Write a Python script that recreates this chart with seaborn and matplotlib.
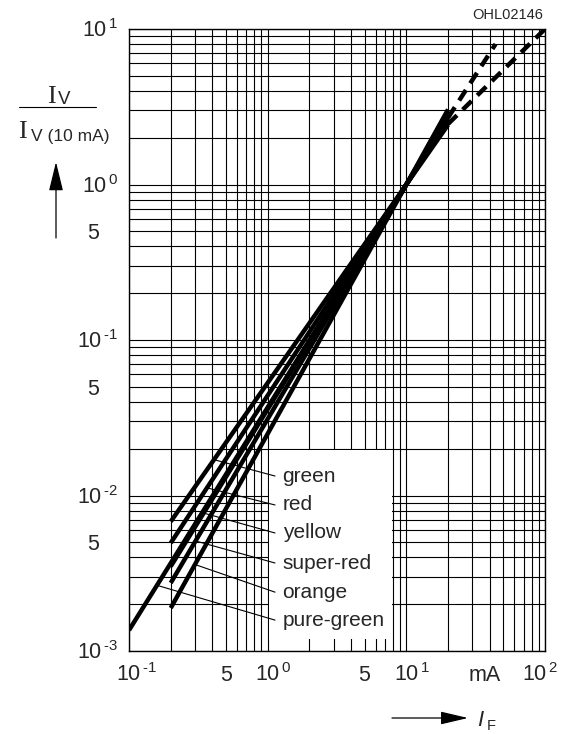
import matplotlib
matplotlib.use("Agg")
import numpy as np
import pandas as pd
import matplotlib.pyplot as plt
import matplotlib.transforms as mtransforms
from matplotlib.patches import Rectangle
from matplotlib.ticker import LogLocator, NullFormatter
import seaborn as sns

# relative luminous intensity vs forward current
LED_NAMES = ["green", "red", "yellow", "super-red", "orange", "pure-green"]
START_CURRENT = [0.2, 0.2, 0.2, 0.2, 0.2, 0.1]          # mA
START_RATIO = [0.0068, 0.00495, 0.0035, 0.00274, 0.00189, 0.00136]
REF_CURRENT = 10.0
REF_RATIO = 1.0
END_CURRENT = 20.0
END_RATIO = [2.42, 2.56, 2.73, 2.84, 3.04, 2.69]

# dashed extrapolation above 20 mA
DASH_STEEP_X = [20.0, 44.0]
DASH_STEEP_Y = [2.69, 8.0]
DASH_FLAT_X = [20.0, 100.0]
DASH_FLAT_Y = [2.45, 10.0]

# leader lines: point on curve -> label
LEADER_CURVE_X = [0.41, 0.365, 0.347, 0.302, 0.299, 0.158]
LEADER_CURVE_Y = [0.0170, 0.0112, 0.0077, 0.0051, 0.0036, 0.00265]
LEADER_END_X = 1.13
LABEL_X = 1.28
LABEL_Y = [0.01334, 0.00869, 0.00574, 0.00368, 0.00239, 0.00158]

X_DECADES = [-1, 0, 1, 2]
X_FIVES = [0.5, 5.0]
Y_DECADES = [1, 0, -1, -2, -3]
Y_FIVES = [0.5, 0.05, 0.005]

SANS = "Liberation Sans"
TICK_FS = 15.5
LABEL_FS = 15

sns.set_style("white")
plt.rcParams["font.family"] = [SANS, "DejaVu Sans"]
plt.rcParams["mathtext.fontset"] = "custom"
plt.rcParams["mathtext.rm"] = SANS
plt.rcParams["mathtext.it"] = SANS + ":italic"
plt.rcParams["mathtext.bf"] = SANS + ":bold"


def decade_label(e):
    # short hyphen instead of the wide math minus, like the datasheet
    exp = f"\\text{{-}}{-e}" if e < 0 else f"{e}"
    return f"10$^{{\\,{exp}}}$"


W, H = 563, 734
fig = plt.figure(figsize=(W / 100, H / 100), dpi=100)
ax = fig.add_axes([129 / W, 1 - 651 / H, 416 / W, 622 / H])
ax.set_xscale("log")
ax.set_yscale("log")
ax.set_xlim(0.1, 100)
ax.set_ylim(0.001, 10)

for axis in (ax.xaxis, ax.yaxis):
    axis.set_major_locator(LogLocator(10, numticks=20))
    axis.set_minor_locator(LogLocator(10, subs=np.arange(2, 10), numticks=40))
    axis.set_minor_formatter(NullFormatter())
ax.set_axisbelow(True)
ax.grid(which="both", color="black", lw=0.8)
ax.tick_params(which="both", length=0, labelbottom=False, labelleft=False)
for sp in ax.spines.values():
    sp.set_color("black")
    sp.set_linewidth(1.0)

# white label field in the lower middle of the grid
ax.add_patch(Rectangle((1.015, 0.00119), 7.9 - 1.015, 0.0196 - 0.00119,
                       facecolor="white", edgecolor="none", zorder=1))

solid = pd.DataFrame({
    "led": np.repeat(LED_NAMES, 3),
    "current": np.ravel([[s, REF_CURRENT, END_CURRENT] for s in START_CURRENT]),
    "ratio": np.ravel([[s, REF_RATIO, e] for s, e in zip(START_RATIO, END_RATIO)]),
})
sns.lineplot(data=solid, x="current", y="ratio", units="led", estimator=None,
             sort=False, color="black", lw=3.2, solid_capstyle="butt",
             ax=ax, zorder=3)

dashed = pd.DataFrame({
    "branch": ["steep"] * 2 + ["flat"] * 2,
    "current": DASH_STEEP_X + DASH_FLAT_X,
    "ratio": DASH_STEEP_Y + DASH_FLAT_Y,
})
sns.lineplot(data=dashed, x="current", y="ratio", units="branch", estimator=None,
             sort=False, color="black", lw=3.2, linestyle=(0, (2.8, 1.8)),
             dash_capstyle="butt", ax=ax, zorder=3)

for i, name in enumerate(LED_NAMES):
    ax.plot([LEADER_CURVE_X[i], LEADER_END_X], [LEADER_CURVE_Y[i], LABEL_Y[i]],
            color="black", lw=0.8, zorder=2)
    ax.text(LABEL_X, LABEL_Y[i], name, ha="left", va="center",
            fontsize=LABEL_FS, zorder=4)

ax.set_xlabel("")
ax.set_ylabel("")

# tick labels
ytr = ax.get_yaxis_transform()
for e in Y_DECADES:
    t = mtransforms.offset_copy(ytr, fig=fig, x=-0.11, y=-0.08, units="inches")
    ax.text(0, 10.0 ** e, decade_label(e), transform=t, ha="right",
            va="baseline", fontsize=TICK_FS)
for v in Y_FIVES:
    t = mtransforms.offset_copy(ytr, fig=fig, x=-0.30, y=-0.08, units="inches")
    ax.text(0, v, "5", transform=t, ha="right", va="baseline", fontsize=TICK_FS)

xtr = ax.get_xaxis_transform()
for e in X_DECADES:
    dx = -0.23 if e == 2 else -0.125
    t = mtransforms.offset_copy(xtr, fig=fig, x=dx, y=-0.30, units="inches")
    ax.text(10.0 ** e, 0, decade_label(e), transform=t, ha="left",
            va="baseline", fontsize=TICK_FS)
for v in X_FIVES:
    t = mtransforms.offset_copy(xtr, fig=fig, x=0, y=-0.30, units="inches")
    ax.text(v, 0, "5", transform=t, ha="center", va="baseline", fontsize=TICK_FS)
t = mtransforms.offset_copy(xtr, fig=fig, x=0, y=-0.30, units="inches")
ax.text(37, 0, "mA", transform=t, ha="center", va="baseline", fontsize=TICK_FS)


def px(x, y):
    return x / W, 1 - y / H


# y axis title: I_V / I_V(10 mA)
fig.text(*px(47, 103), "I", family="Liberation Serif", fontsize=19, ha="left", va="baseline")
fig.text(*px(58, 104), "V", fontsize=13.5, ha="left", va="baseline")
fig.add_artist(plt.Line2D([19 / W, 96 / W], [1 - 107 / H, 1 - 107 / H],
                          color="black", lw=0.8))
fig.text(*px(18, 138), "I", family="Liberation Serif", fontsize=19, ha="left", va="baseline")
fig.text(*px(31, 141), "V (10 mA)", fontsize=12.5, ha="left", va="baseline")

ax.annotate("", xy=(56, H - 162), xytext=(56, H - 238), xycoords="figure pixels",
            textcoords="figure pixels", annotation_clip=False,
            arrowprops=dict(arrowstyle="-|>,head_length=0.9,head_width=0.22",
                            mutation_scale=20, color="black", lw=0.9,
                            shrinkA=0, shrinkB=0))

# x axis title: -> I_F
ax.annotate("", xy=(468, H - 718), xytext=(392, H - 718), xycoords="figure pixels",
            textcoords="figure pixels", annotation_clip=False,
            arrowprops=dict(arrowstyle="-|>,head_length=0.85,head_width=0.2",
                            mutation_scale=20, color="black", lw=0.9,
                            shrinkA=0, shrinkB=0))
fig.text(*px(477, 726), "I", fontsize=16, style="italic", ha="left", va="baseline")
fig.text(*px(487, 730), "F", fontsize=10.5, ha="left", va="baseline")

fig.text(*px(543, 15), "OHL02146", family="Liberation Sans", fontsize=10.5,
         ha="right", va="center")

fig.savefig("out.png", dpi=100)
